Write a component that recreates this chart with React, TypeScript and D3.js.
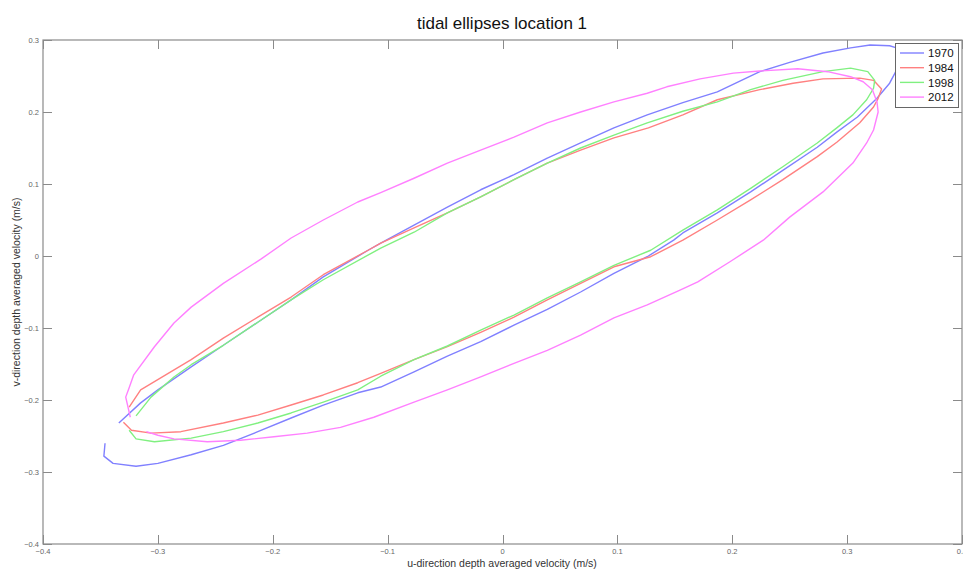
import React, { useEffect, useRef } from "react";
import * as d3 from "d3";

type Pt = [number, number];

// Depth-averaged velocity ellipses, (u, v) in m/s
const u1970: number[] = [-0.346, -0.347, -0.339, -0.319, -0.300, -0.271, -0.243, -0.213, -0.184, -0.156, -0.126, -0.106, -0.077, -0.048, -0.019, 0.010, 0.039, 0.068, 0.097, 0.126, 0.149, 0.157, 0.187, 0.216, 0.244, 0.274, 0.291, 0.309, 0.326, 0.337, 0.345, 0.349, 0.343, 0.337, 0.320, 0.303, 0.279, 0.250, 0.224, 0.187, 0.157, 0.126, 0.097, 0.068, 0.039, 0.010, -0.019, -0.048, -0.077, -0.106, -0.117, -0.156, -0.184, -0.213, -0.243, -0.271, -0.300, -0.315, -0.334];
const v1970: number[] = [-0.260, -0.278, -0.288, -0.292, -0.288, -0.276, -0.263, -0.244, -0.225, -0.207, -0.190, -0.182, -0.161, -0.139, -0.119, -0.096, -0.074, -0.050, -0.024, -0.001, 0.022, 0.032, 0.060, 0.089, 0.119, 0.151, 0.172, 0.193, 0.219, 0.240, 0.264, 0.278, 0.289, 0.292, 0.293, 0.289, 0.282, 0.269, 0.256, 0.228, 0.213, 0.196, 0.178, 0.157, 0.136, 0.113, 0.092, 0.068, 0.043, 0.018, 0.008, -0.029, -0.061, -0.092, -0.124, -0.154, -0.186, -0.204, -0.232];

const u1984: number[] = [-0.330, -0.323, -0.306, -0.280, -0.243, -0.213, -0.184, -0.156, -0.126, -0.106, -0.077, -0.048, -0.019, 0.010, 0.039, 0.068, 0.097, 0.129, 0.157, 0.187, 0.216, 0.244, 0.274, 0.291, 0.311, 0.323, 0.327, 0.330, 0.323, 0.311, 0.279, 0.253, 0.224, 0.187, 0.157, 0.127, 0.097, 0.068, 0.039, 0.010, -0.019, -0.048, -0.077, -0.106, -0.117, -0.156, -0.184, -0.213, -0.243, -0.271, -0.291, -0.315, -0.325];
const v1984: number[] = [-0.231, -0.242, -0.246, -0.244, -0.232, -0.221, -0.207, -0.193, -0.176, -0.163, -0.144, -0.126, -0.106, -0.085, -0.061, -0.038, -0.015, -0.001, 0.022, 0.050, 0.078, 0.106, 0.138, 0.158, 0.185, 0.207, 0.219, 0.232, 0.244, 0.247, 0.246, 0.240, 0.231, 0.217, 0.196, 0.178, 0.164, 0.147, 0.129, 0.106, 0.082, 0.060, 0.039, 0.018, 0.008, -0.026, -0.057, -0.085, -0.114, -0.144, -0.163, -0.186, -0.210];

const u1998: number[] = [-0.325, -0.319, -0.303, -0.271, -0.243, -0.213, -0.184, -0.156, -0.126, -0.106, -0.077, -0.048, -0.019, 0.010, 0.039, 0.068, 0.097, 0.129, 0.157, 0.187, 0.216, 0.244, 0.274, 0.291, 0.305, 0.317, 0.323, 0.324, 0.318, 0.303, 0.279, 0.244, 0.216, 0.187, 0.157, 0.126, 0.097, 0.068, 0.039, 0.010, -0.019, -0.048, -0.077, -0.106, -0.156, -0.184, -0.213, -0.243, -0.271, -0.286, -0.306, -0.319];
const v1998: number[] = [-0.242, -0.254, -0.258, -0.253, -0.244, -0.232, -0.218, -0.203, -0.186, -0.167, -0.144, -0.125, -0.103, -0.082, -0.058, -0.036, -0.013, 0.008, 0.036, 0.064, 0.094, 0.124, 0.157, 0.178, 0.196, 0.217, 0.233, 0.244, 0.256, 0.261, 0.256, 0.244, 0.231, 0.214, 0.201, 0.185, 0.168, 0.150, 0.129, 0.106, 0.082, 0.060, 0.033, 0.011, -0.033, -0.061, -0.092, -0.124, -0.151, -0.168, -0.196, -0.222];

const u2012: number[] = [-0.310, -0.300, -0.286, -0.257, -0.228, -0.199, -0.170, -0.141, -0.112, -0.077, -0.048, -0.019, 0.010, 0.039, 0.068, 0.097, 0.126, 0.155, 0.170, 0.198, 0.227, 0.250, 0.279, 0.305, 0.317, 0.323, 0.327, 0.326, 0.322, 0.314, 0.303, 0.283, 0.257, 0.224, 0.201, 0.172, 0.143, 0.126, 0.097, 0.068, 0.039, 0.010, -0.019, -0.048, -0.077, -0.106, -0.126, -0.156, -0.184, -0.210, -0.243, -0.271, -0.286, -0.303, -0.321, -0.325, -0.328, -0.326, -0.324];
const v2012: number[] = [-0.244, -0.249, -0.254, -0.258, -0.256, -0.251, -0.246, -0.238, -0.224, -0.203, -0.186, -0.168, -0.149, -0.131, -0.110, -0.086, -0.068, -0.047, -0.036, -0.008, 0.022, 0.054, 0.089, 0.129, 0.157, 0.175, 0.200, 0.214, 0.231, 0.242, 0.249, 0.256, 0.260, 0.257, 0.254, 0.246, 0.235, 0.226, 0.214, 0.200, 0.185, 0.165, 0.147, 0.129, 0.108, 0.088, 0.075, 0.050, 0.025, -0.004, -0.038, -0.071, -0.093, -0.126, -0.165, -0.183, -0.196, -0.210, -0.224];

const seriesNames: string[] = ["1970", "1984", "1998", "2012"];
const seriesColors: string[] = ["#8080ff", "#ff8080", "#80f080", "#ff80ff"];

const xTicks: number[] = [-0.4, -0.3, -0.2, -0.1, 0, 0.1, 0.2, 0.3, 0.4];
const yTicks: number[] = [-0.4, -0.3, -0.2, -0.1, 0, 0.1, 0.2, 0.3];

const W = 963;
const H = 572;
const M = { left: 43, right: 962, top: 40, bottom: 544 };

const zipPts = (u: number[], v: number[]): Pt[] => u.map((x, i) => [x, v[i]]);

export default function App() {
  const ref = useRef<SVGSVGElement>(null);

  useEffect(() => {
    const svg = d3.select(ref.current);
    svg.selectAll("*").remove();

    const x = d3.scaleLinear().domain([-0.4, 0.4]).range([M.left, M.right]);
    const y = d3.scaleLinear().domain([-0.4, 0.3]).range([M.bottom, M.top]);

    svg.append("rect").attr("width", W).attr("height", H).attr("fill", "#fff");

    const font = "Liberation Sans, Arial, Helvetica, sans-serif";
    const axisCol = "#8a8a8a";
    const tickLen = 9;

    // Frame
    svg
      .append("rect")
      .attr("x", M.left)
      .attr("y", M.top)
      .attr("width", M.right - M.left)
      .attr("height", M.bottom - M.top)
      .attr("fill", "none")
      .attr("stroke", axisCol)
      .attr("stroke-width", 1.2);

    const ticks = svg.append("g").attr("stroke", axisCol).attr("stroke-width", 1);
    xTicks.forEach((t) => {
      const px = Math.round(x(t)) + 0.5;
      ticks.append("line").attr("x1", px).attr("x2", px).attr("y1", M.bottom).attr("y2", M.bottom - tickLen);
      ticks.append("line").attr("x1", px).attr("x2", px).attr("y1", M.top).attr("y2", M.top + tickLen);
    });
    yTicks.forEach((t) => {
      const py = Math.round(y(t)) + 0.5;
      ticks.append("line").attr("x1", M.left).attr("x2", M.left + tickLen).attr("y1", py).attr("y2", py);
      ticks.append("line").attr("x1", M.right).attr("x2", M.right - tickLen).attr("y1", py).attr("y2", py);
    });

    const fmt = (t: number) => (t === 0 ? "0" : d3.format(".1f")(t));

    svg
      .append("g")
      .selectAll("text")
      .data(xTicks)
      .join("text")
      .attr("x", (d) => x(d))
      .attr("y", M.bottom + 10)
      .attr("text-anchor", "middle")
      .attr("font-family", font)
      .attr("font-size", 7.5)
      .attr("fill", "#666")
      .text(fmt);

    svg
      .append("g")
      .selectAll("text")
      .data(yTicks)
      .join("text")
      .attr("x", M.left - 4)
      .attr("y", (d) => y(d) + 2.5)
      .attr("text-anchor", "end")
      .attr("font-family", font)
      .attr("font-size", 7.5)
      .attr("fill", "#666")
      .text(fmt);

    // Ellipse traces
    const line = d3
      .line<Pt>()
      .x((d) => x(d[0]))
      .y((d) => y(d[1]));

    const series: Pt[][] = [
      zipPts(u1970, v1970),
      zipPts(u1984, v1984),
      zipPts(u1998, v1998),
      zipPts(u2012, v2012),
    ];

    series.forEach((pts, i) => {
      svg
        .append("path")
        .attr("d", line(pts))
        .attr("fill", "none")
        .attr("stroke", seriesColors[i])
        .attr("stroke-width", 1.4)
        .attr("stroke-linejoin", "round");
    });

    // Title and axis labels
    svg
      .append("text")
      .attr("x", 502)
      .attr("y", 29)
      .attr("text-anchor", "middle")
      .attr("font-family", font)
      .attr("font-size", 17)
      .attr("fill", "#111")
      .text("tidal ellipses location 1");

    svg
      .append("text")
      .attr("x", 502)
      .attr("y", 567)
      .attr("text-anchor", "middle")
      .attr("font-family", font)
      .attr("font-size", 10.5)
      .attr("fill", "#333")
      .text("u-direction depth averaged velocity (m/s)");

    svg
      .append("text")
      .attr("transform", `translate(20,${(M.top + M.bottom) / 2}) rotate(-90)`)
      .attr("text-anchor", "middle")
      .attr("font-family", font)
      .attr("font-size", 10.5)
      .attr("fill", "#333")
      .text("v-direction depth averaged velocity (m/s)");

    // Legend
    const lg = svg.append("g");
    lg.append("rect")
      .attr("x", 895.5)
      .attr("y", 43.5)
      .attr("width", 63)
      .attr("height", 64)
      .attr("fill", "#fff")
      .attr("stroke", "#666")
      .attr("stroke-width", 1);
    seriesNames.forEach((name, i) => {
      const ly = 53 + i * 14.7;
      lg.append("line")
        .attr("x1", 900)
        .attr("x2", 924)
        .attr("y1", ly)
        .attr("y2", ly)
        .attr("stroke", seriesColors[i])
        .attr("stroke-width", 1.4);
      lg.append("text")
        .attr("x", 928)
        .attr("y", ly + 4.3)
        .attr("font-family", font)
        .attr("font-size", 11.5)
        .attr("fill", "#111")
        .text(name);
    });
  }, []);

  return (
    <div style={{ position: "fixed", left: 0, top: 0, width: W, height: H }}>
      <svg ref={ref} width={W} height={H} style={{ display: "block" }} />
    </div>
  );
}
